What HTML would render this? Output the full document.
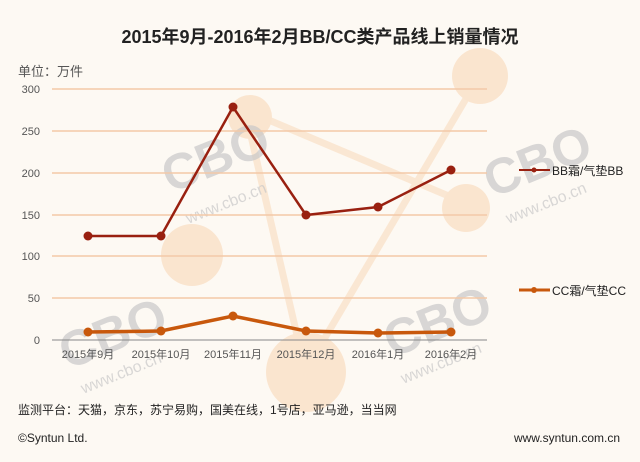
<!DOCTYPE html>
<html><head><meta charset="utf-8"><style>
body{margin:0;background:#fdf9f3;}
svg{display:block;font-family:"Liberation Sans","Noto Sans CJK SC",sans-serif;}
</style></head><body>
<svg width="640" height="462" viewBox="0 0 640 462">
<rect width="640" height="462" fill="#fdf9f3"/>
<!-- decorative -->
<g opacity="0.5">
<line x1="245" y1="110" x2="470" y2="205" stroke="#f9d7b5" stroke-width="7"/>
<line x1="245" y1="110" x2="305" y2="370" stroke="#f9d7b5" stroke-width="7"/>
<line x1="480" y1="75" x2="300" y2="380" stroke="#f9d7b5" stroke-width="7"/>
<circle cx="480" cy="76" r="28" fill="#f9d2ad"/>
<circle cx="466" cy="208" r="24" fill="#f9d2ad"/>
<circle cx="192" cy="255" r="31" fill="#f9d2ad"/>
<circle cx="306" cy="372" r="40" fill="#f9d2ad"/>
<circle cx="250" cy="117" r="22" fill="#f9d2ad"/>
</g>
<g fill="#c8c8c8" opacity="0.7" font-weight="bold" font-size="50">
<text x="160" y="180" transform="rotate(-22 200 160)">CBO</text>
<text x="480" y="185" transform="rotate(-22 520 160)">CBO</text>
<text x="55" y="355" transform="rotate(-22 100 330)">CBO</text>
<text x="380" y="345" transform="rotate(-22 420 320)">CBO</text>
</g>
<g fill="#c8c8c8" opacity="0.7" font-size="16">
<text x="180" y="210" transform="rotate(-22 220 195)">www.cbo.cn</text>
<text x="500" y="210" transform="rotate(-22 540 195)">www.cbo.cn</text>
<text x="75" y="380" transform="rotate(-22 115 365)">www.cbo.cn</text>
<text x="395" y="370" transform="rotate(-22 435 355)">www.cbo.cn</text>
</g>
<text x="320" y="43" text-anchor="middle" font-size="18" font-weight="bold" fill="#222">2015年9月-2016年2月BB/CC类产品线上销量情况</text>
<text x="18" y="76" font-size="13" fill="#555">单位：万件</text>
<g stroke="#f3c9a8" stroke-width="1.5">
<line x1="52" y1="89" x2="487" y2="89"/><line x1="52" y1="131" x2="487" y2="131"/>
<line x1="52" y1="173" x2="487" y2="173"/><line x1="52" y1="215" x2="487" y2="215"/>
<line x1="52" y1="256" x2="487" y2="256"/><line x1="52" y1="298" x2="487" y2="298"/>
</g>
<line x1="52" y1="340" x2="487" y2="340" stroke="#888" stroke-width="1"/>
<g font-size="11" fill="#555" text-anchor="end">
<text x="40" y="93">300</text><text x="40" y="135">250</text><text x="40" y="177">200</text>
<text x="40" y="219">150</text><text x="40" y="260">100</text><text x="40" y="302">50</text><text x="40" y="344">0</text>
</g>
<g font-size="11" fill="#555" text-anchor="middle">
<text x="88" y="358">2015年9月</text><text x="161" y="358">2015年10月</text><text x="233" y="358">2015年11月</text>
<text x="306" y="358">2015年12月</text><text x="378" y="358">2016年1月</text><text x="451" y="358">2016年2月</text>
</g>
<polyline points="88,236 161,236 233,107 306,215 378,207 451,170" fill="none" stroke="#992010" stroke-width="2.5"/>
<g fill="#992010"><circle cx="88" cy="236" r="4.5"/><circle cx="161" cy="236" r="4.5"/><circle cx="233" cy="107" r="4.5"/><circle cx="306" cy="215" r="4.5"/><circle cx="378" cy="207" r="4.5"/><circle cx="451" cy="170" r="4.5"/></g>
<polyline points="88,332 161,331 233,316 306,331 378,333 451,332" fill="none" stroke="#c8580c" stroke-width="3.5"/>
<g fill="#c8580c"><circle cx="88" cy="332" r="4.5"/><circle cx="161" cy="331" r="4.5"/><circle cx="233" cy="316" r="4.5"/><circle cx="306" cy="331" r="4.5"/><circle cx="378" cy="333" r="4.5"/><circle cx="451" cy="332" r="4.5"/></g>
<line x1="519" y1="170" x2="550" y2="170" stroke="#992010" stroke-width="2"/><circle cx="534" cy="170" r="2.5" fill="#992010"/>
<text x="552" y="175" font-size="12" fill="#222">BB霜/气垫BB</text>
<line x1="519" y1="290" x2="550" y2="290" stroke="#c8580c" stroke-width="3"/><circle cx="534" cy="290" r="3" fill="#c8580c"/>
<text x="552" y="295" font-size="12" fill="#222">CC霜/气垫CC</text>
<text x="18" y="414" font-size="12" fill="#222">监测平台：天猫，京东，苏宁易购，国美在线，1号店，亚马逊，当当网</text>
<text x="18" y="442" font-size="12" fill="#222">©Syntun Ltd.</text>
<text x="620" y="442" font-size="12" fill="#222" text-anchor="end">www.syntun.com.cn</text>
</svg>
</body></html>
